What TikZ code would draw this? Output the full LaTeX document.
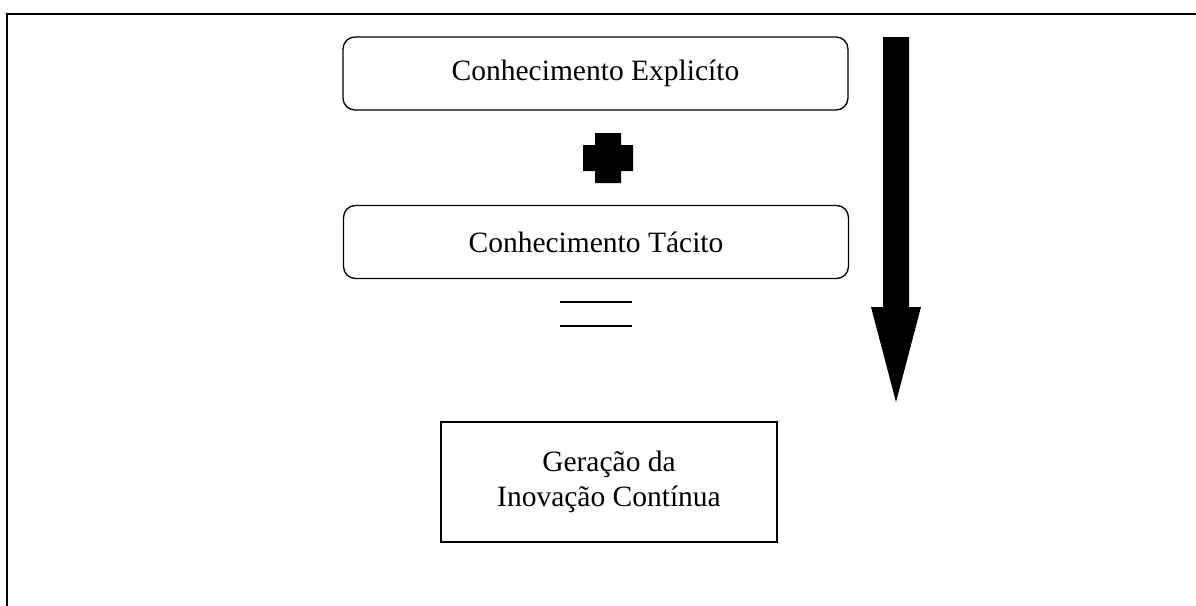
\documentclass[tikz,border=0pt]{standalone}
\usepackage{fontspec}
\setmainfont{Liberation Serif}
\begin{document}
\begin{tikzpicture}[x=1pt,y=-1pt,
  rbox/.style={draw,line width=1.3pt,rounded corners=12pt,minimum width=505pt,minimum height=73pt,inner sep=0pt},
  sbox/.style={draw,line width=1.3pt,minimum width=336pt,minimum height=120pt,inner sep=0pt,align=center},
  txt/.style={font=\fontsize{29.5}{35}\selectfont},
  frame/.style={line width=2pt},
  eqline/.style={line width=2pt}]
\useasboundingbox (0,0) rectangle (1196,605);
\draw[frame] (7,606) -- (7,14) -- (1197,14);
\node[rbox,txt] (expl) at (595.5,73.5) {Conhecimento Explicíto};
\node[rbox,txt] (tac) at (596,242) {Conhecimento Tácito};
\node[sbox,txt] (ger) at (609,482) {Geração da\\Inovação Contínua};
% plus sign
\fill (595,133) -- (621,133) -- (621,145) -- (633,145) -- (633,171) -- (621,171) -- (621,183) -- (595,183) -- (595,171) -- (583,171) -- (583,145) -- (595,145) -- cycle;
% equals sign
\coordinate (e1a) at (560,302); \coordinate (e1b) at (632,302);
\coordinate (e2a) at (560,326); \coordinate (e2b) at (632,326);
\draw[eqline] (e1a) -- (e1b);
\draw[eqline] (e2a) -- (e2b);
% big down arrow
\fill (883,37) -- (909,37) -- (909,307) -- (921,307) -- (896,402) -- (871,307) -- (883,307) -- cycle;
\end{tikzpicture}
\end{document}
